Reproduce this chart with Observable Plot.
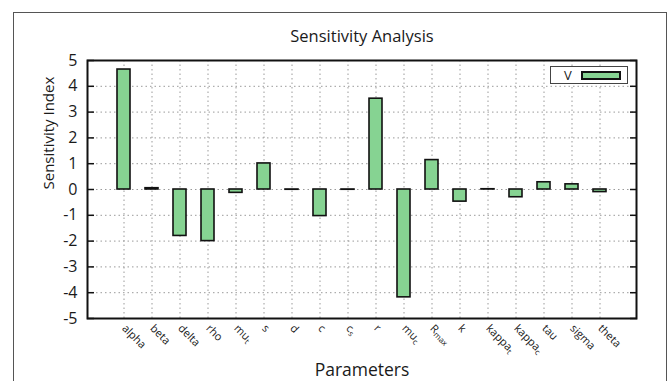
<!DOCTYPE html>
<html>
<head>
<meta charset="utf-8">
<script src="https://cdn.jsdelivr.net/npm/d3@7"></script>
<script src="https://cdn.jsdelivr.net/npm/@observablehq/plot@0.6"></script>
<style>
  html, body { margin: 0; padding: 0; background: #fff; }
  body { width: 669px; height: 381px; overflow: hidden; position: relative; font-family: "Open Sans", sans-serif; }
  #panel { position: absolute; left: 13px; top: 12px; width: 654px; height: 400px; border: 1.5px solid #555; box-sizing: border-box; pointer-events: none; }
  #title { position: absolute; left: 0; width: 724px; top: 24px; text-align: center; font-size: 16.5px; color: #1a1a1a; }
  #legend { position: absolute; left: 550px; top: 66px; width: 78px; height: 18px; border: 1px solid #444; background: #fff; box-sizing: border-box; }
  #legend .key { position: absolute; left: 13px; top: -1px; font-size: 13px; color: #1a1a1a; }
  #legend .swatch { position: absolute; left: 30px; top: 4px; width: 40px; height: 9px; background: #86d392; border: 2px solid #111; box-sizing: border-box; }
  #chart { position: absolute; left: 0; top: 0; }
</style>
</head>
<body>
<div id="chart"></div>
<div id="panel"></div>
<div id="title">Sensitivity Analysis</div>
<div id="legend"><span class="key">V</span><span class="swatch"></span></div>
<script>
// Model parameters (underscore marks a subscript in the tick label)
const params = ["alpha", "beta", "delta", "rho", "mu_t", "s", "d", "c", "c_s", "r",
                "mu_c", "R_max", "k", "kappa_t", "kappa_c", "tau", "sigma", "theta"];
// Sensitivity index of V with respect to each parameter
const sensitivity = [4.65, 0.05, -1.8, -2.0, -0.13, 1.01, -0.01, -1.03, -0.01, 3.52,
                     -4.18, 1.14, -0.47, 0.01, -0.3, 0.28, 0.2, -0.1];
const yTicks = [-5, -4, -3, -2, -1, 0, 1, 2, 3, 4, 5];

const data = params.map((p, i) => ({param: p, value: sensitivity[i]}));

const barFill = "#86d392";
const gridStyle = {stroke: "#9a9a9a", strokeOpacity: 1, strokeDasharray: "1.5,3"};

const chart = Plot.plot({
  width: 669,
  height: 381,
  marginLeft: 87,
  marginRight: 33,
  marginTop: 60,
  marginBottom: 63,
  style: {fontFamily: "'Open Sans', sans-serif", background: "transparent", color: "#1a1a1a"},
  x: {type: "band", domain: params, paddingInner: 0.53, paddingOuter: 0.765, label: null},
  y: {domain: [-5, 5], label: null},
  marks: [
    Plot.gridX(params, gridStyle),
    Plot.gridY(yTicks.filter(d => d > -5 && d < 5), gridStyle),
    Plot.barY(data, {x: "param", y: "value", fill: barFill, stroke: "#111", strokeWidth: 1.6}),
    // tick labels
    Plot.axisY(yTicks, {anchor: "left", tickSize: 0, tickPadding: 10, fontSize: 16, tickFormat: d => String(d), label: null}),
    // inward tick marks on both sides
    Plot.axisY(yTicks, {anchor: "left", tickSize: -7, tickFormat: () => "", label: null, stroke: "#111", strokeWidth: 1.5}),
    Plot.axisY(yTicks, {anchor: "right", tickSize: -7, tickFormat: () => "", label: null, stroke: "#111", strokeWidth: 1.5}),
    Plot.axisX(params, {anchor: "bottom", tickSize: 0, tickPadding: 8, tickRotate: 45, fontSize: 11, label: null}),
    // axis titles
    Plot.text(["Sensitivity Index"], {frameAnchor: "left", dx: -38, rotate: -90, fontSize: 15, fill: "#1a1a1a"}),
    Plot.text(["Parameters"], {frameAnchor: "bottom", dy: 57, fontSize: 17.5, fill: "#1a1a1a"}),
    Plot.frame({stroke: "#111", strokeWidth: 2})
  ]
});

document.getElementById("chart").append(chart);

// turn "name_sub" tick labels into base text with a subscript
d3.select(chart).selectAll('g[aria-label="x-axis tick label"] text').each(function () {
  const t = d3.select(this);
  const s = t.text();
  const i = s.indexOf("_");
  if (i < 0) return;
  t.text(null);
  t.append("tspan").text(s.slice(0, i));
  t.append("tspan").attr("baseline-shift", "-30%").attr("font-size", "8px").text(s.slice(i + 1));
});
</script>
</body>
</html>
